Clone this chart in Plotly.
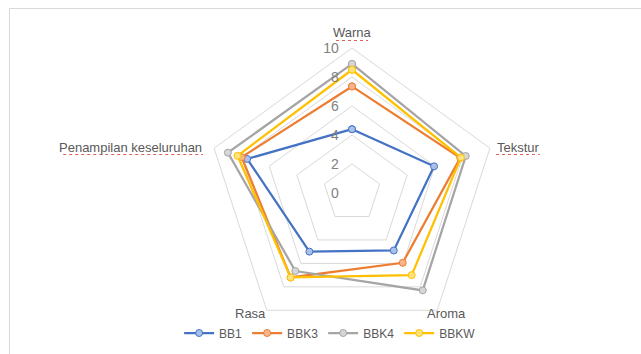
import plotly.graph_objects as go

categories = ["Warna", "Tekstur", "Aroma", "Rasa", "Penampilan keseluruhan"]
series_names = ["BB1", "BBK3", "BBK4", "BBKW"]
bb1 = [4.4, 5.95, 4.9, 5.0, 7.6]
bbk3 = [7.35, 7.85, 5.95, 7.2, 8.0]
bbk4 = [8.9, 8.25, 8.3, 6.65, 9.0]
bbkw = [8.5, 7.9, 7.0, 7.2, 8.3]
radial_ticks = [0, 2, 4, 6, 8, 10]

values = [bb1, bbk3, bbk4, bbkw]
line_colors = ["#4472C4", "#ED7D31", "#A5A5A5", "#FFC000"]
fill_colors = ["#A9C0EA", "#F6B58E", "#D6D6D6", "#FFE37A"]

fig = go.Figure()
for name, vals, lc, fc in zip(series_names, values, line_colors, fill_colors):
    fig.add_trace(go.Scatterpolar(
        r=vals + vals[:1],
        theta=categories + categories[:1],
        mode="lines+markers",
        name=name,
        line=dict(color=lc, width=2.25),
        marker=dict(symbol="circle", size=7, color=fc, line=dict(color=lc, width=1)),
    ))

cx, cy, R = 352, 193, 145
W, H = 641, 354

# category label placement (pixel positions, anchor)
label_pos = [
    (352, 33, "center", True),
    (495, 147, "left", True),
    (447, 313, "center", False),
    (250, 313, "center", False),
    (204, 147, "right", True),
]
annotations = []
shapes = [dict(type="rect", xref="paper", yref="paper",
               x0=9.5 / W, x1=1.05, y0=-0.05, y1=1 - 8.5 / H,
               line=dict(color="#D9D9D9", width=1))]
char_w = 6.4
for cat, (px, py, anchor, underline) in zip(categories, label_pos):
    annotations.append(dict(
        text=cat, x=px / W, y=1 - py / H, xref="paper", yref="paper",
        xanchor=anchor, yanchor="middle", showarrow=False,
        font=dict(size=13, color="#595959"),
    ))
    if underline:
        w = len(cat) * char_w
        if anchor == "center":
            x0, x1 = px - w / 2, px + w / 2
        elif anchor == "left":
            x0, x1 = px + 1, px + w
        else:
            x0, x1 = px - w, px - 1
        shapes.append(dict(type="line", xref="paper", yref="paper",
                           x0=x0 / W, x1=x1 / W, y0=1 - (py + 7.5) / H, y1=1 - (py + 7.5) / H,
                           line=dict(color="#E06060", width=1, dash="dot")))

fig.update_layout(
    width=W, height=H,
    margin=dict(l=0, r=0, t=0, b=0),
    paper_bgcolor="white",
    plot_bgcolor="white",
    font=dict(family="Liberation Sans, Arial, sans-serif", color="#595959"),
    polar=dict(
        domain=dict(x=[(cx - R) / W, (cx + R) / W], y=[(H - cy - R) / H, (H - cy + R) / H]),
        gridshape="linear",
        bgcolor="white",
        radialaxis=dict(
            range=[0, 10], tickvals=radial_ticks,
            ticktext=[str(t) + "\u2007\u2009" for t in radial_ticks],
            angle=90, tickangle=90, side="counterclockwise",
            showline=False, ticks="", gridcolor="#D9D9D9", gridwidth=1,
            tickfont=dict(size=14, color="#7F7F7F"),
        ),
        angularaxis=dict(
            rotation=90, direction="clockwise",
            showgrid=False, showline=True, linecolor="#D9D9D9", linewidth=1,
            ticks="", showticklabels=False,
        ),
    ),
    legend=dict(
        orientation="h", x=0.515, xanchor="center", y=(H - 333) / H, yanchor="middle",
        font=dict(size=12, color="#595959"), bgcolor="rgba(0,0,0,0)",
    ),
    annotations=annotations,
    shapes=shapes,
)

fig.write_html("out.html")
